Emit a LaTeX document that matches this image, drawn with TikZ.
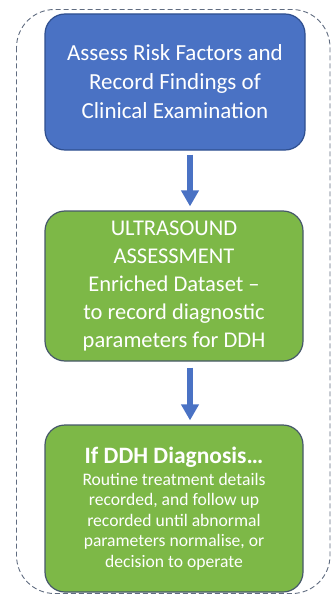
\documentclass[tikz,border=0pt]{standalone}
\usepackage{fontspec}
\setmainfont{Carlito}
\usetikzlibrary{arrows.meta}
\definecolor{bluefill}{HTML}{4A72C4}
\definecolor{blueedge}{HTML}{2F4F8F}
\definecolor{greenfill}{HTML}{7DB847}
\definecolor{greenedge}{HTML}{46586A}
\definecolor{frameedge}{HTML}{606C80}
\tikzset{
  x=1pt, y=-1pt,
  stepbox/.style={draw, line width=1.2pt, rounded corners=20pt, text=white, align=center, inner sep=0pt},
  bluebox/.style={stepbox, fill=bluefill, draw=blueedge},
  greenbox/.style={stepbox, fill=greenfill, draw=greenedge},
  flow/.style={draw=bluefill, line width=6pt, -{Triangle[width=17pt,length=16pt]}}
}
\begin{document}
\begin{tikzpicture}
\useasboundingbox (0,0) rectangle (332,599);
\draw[frameedge, line width=0.9pt, dash pattern=on 5pt off 3pt, rounded corners=38pt] (16.5,9.5) rectangle (330,593.5);
\node[bluebox, minimum width=260pt, minimum height=136pt, font=\fontsize{23}{29}\selectfont] (a) at (175,82)
  {Assess Risk Factors and\\Record Findings of\\Clinical Examination};
\node[greenbox, minimum width=258pt, minimum height=150pt, font=\fontsize{22.5}{28}\selectfont] (b) at (174,286)
  {ULTRASOUND\\ASSESSMENT\\Enriched Dataset --\\to record diagnostic\\parameters for DDH};
\node[greenbox, minimum width=258pt, minimum height=167pt, font=\fontsize{17.6}{20.5}\selectfont] (c) at (174,508.5)
  {{\fontsize{23.5}{25}\selectfont\bfseries If DDH Diagnosis\dots}\\[1pt]Routine treatment details\\recorded, and follow up\\recorded until abnormal\\parameters normalise, or\\decision to operate};
\draw[flow] ([xshift=15pt,yshift=-4pt]a.south) -- ([xshift=16pt,yshift=4pt]b.north);
\draw[flow] ([xshift=16pt,yshift=-6pt]b.south) -- ([xshift=16pt,yshift=4pt]c.north);
\end{tikzpicture}
\end{document}
